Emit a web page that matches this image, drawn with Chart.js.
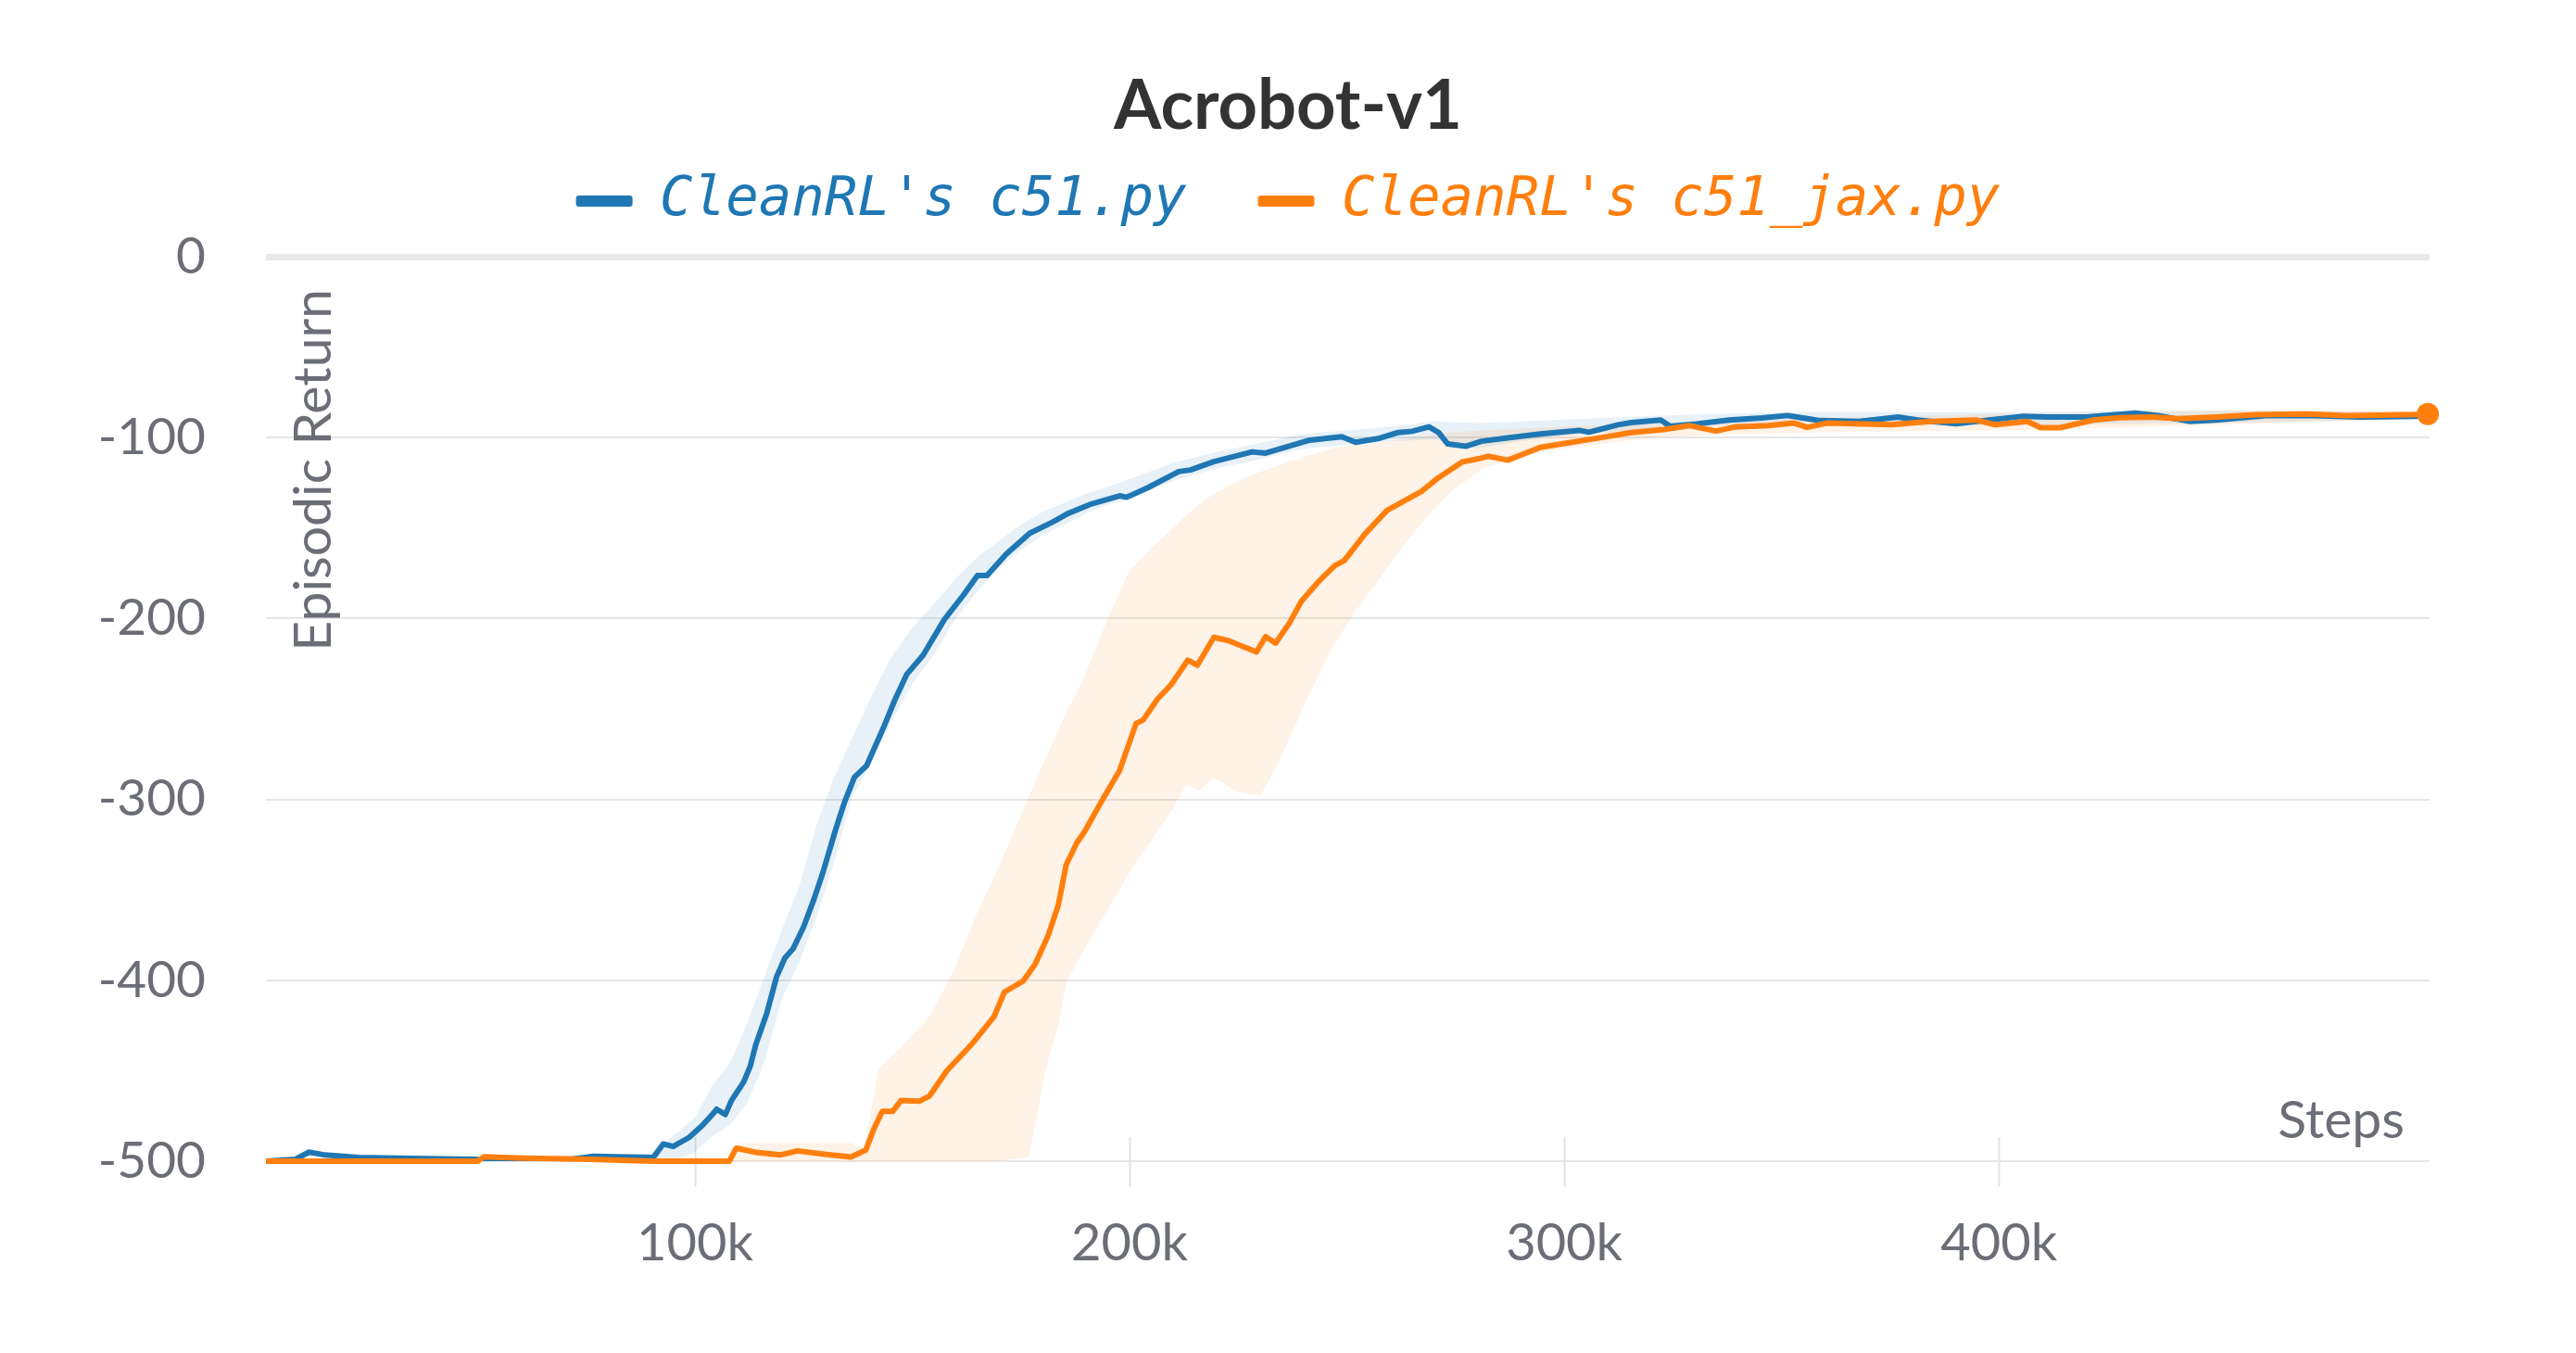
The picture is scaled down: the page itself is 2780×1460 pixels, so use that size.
<!DOCTYPE html>
<html>
<head>
<meta charset="utf-8">
<script src="https://cdn.jsdelivr.net/npm/chart.js@4.4.1/dist/chart.umd.min.js"></script>
<style>
  html, body { margin: 0; padding: 0; background: #ffffff; }
  #wrap { width: 2780px; height: 1460px; }
</style>
</head>
<body>
<div id="wrap"><canvas id="c" width="2780" height="1460"></canvas></div>
<script>
// ---------------- data (steps in thousands) ----------------
const chartTitle = 'Acrobot-v1';
const seriesNames = ["CleanRL's c51.py", "CleanRL's c51_jax.py"];
const xTickValues = [100000, 200000, 300000, 400000];
const yTickValues = [0, -100, -200, -300, -400, -500];
const xAxisLabel = 'Steps';
const yAxisLabel = 'Episodic Return';

const c51Steps = [1.3, 8, 11.2, 14.9, 22.6, 35, 49.3, 55, 70, 76.6, 90.4, 92.7, 95, 98.7, 101.8, 104, 105, 107, 108.4, 111.2, 112.7, 114, 116.5, 118.8, 120.7, 122.6, 125, 127.4, 129.5, 132.4, 134.5, 136.7, 139.5, 143.3, 146, 148.7, 152.5, 157.4, 161.8, 165, 167.2, 171.6, 177, 182.4, 185.7, 191.2, 197.7, 199.3, 204.2, 211.3, 214, 219.4, 228.2, 231.3, 241.1, 248.8, 252, 257.5, 261.8, 265, 268.9, 271.1, 273.2, 277.3, 281, 287, 294.5, 303.4, 305.7, 312.4, 315.4, 322.2, 324.4, 330.4, 337.9, 345.4, 351.4, 355.9, 358.9, 367.9, 376.8, 381.3, 390.2, 397.7, 405.2, 411.2, 420.2, 431.4, 436.6, 444, 450, 462, 472.6, 483, 494.9, 498.7];
const c51Return = [-500, -499, -495, -496.6, -498, -498.5, -499, -500, -499.5, -497.3, -498, -490.5, -491.9, -486.8, -480, -474.2, -471.3, -474.2, -466.5, -456.3, -447.7, -435.6, -418.5, -398, -387.7, -382.5, -370.5, -355.1, -340, -316.4, -301, -287.7, -281.4, -260.8, -245, -231, -220.3, -200.5, -187, -176.2, -176.2, -164.5, -152.9, -146.6, -142.1, -136.7, -132.2, -133, -127.7, -118.8, -117.9, -113.3, -107.9, -108.6, -101.6, -99.5, -102.6, -100.4, -97.2, -96.5, -94.1, -97.2, -103.5, -104.8, -102, -100.2, -98, -96, -97, -92.9, -91.7, -90.3, -93.7, -92.4, -90.3, -89.1, -87.8, -89.5, -90.6, -91.1, -88.6, -90.3, -92.4, -90.3, -88.3, -88.6, -88.6, -86.4, -87.8, -91.1, -90.3, -87.8, -87.8, -88.6, -88.3, -88];

const c51BandSteps = [1.3, 90, 95, 100, 104, 108, 112, 116, 120, 124, 128, 132, 136, 140, 145, 150, 155, 160, 165, 170, 175, 180, 185, 190, 195, 200, 210, 220, 230, 240, 250, 260, 270, 280, 290, 300, 320, 350, 400, 450, 498.7];
const c51BandLow  = [-500, -500, -500, -495, -486, -480, -468, -445, -410, -390, -365, -335, -300, -282, -258, -236, -220, -200, -185, -172, -162, -154, -148, -142, -137, -134, -124, -117, -112, -106, -104, -102, -101, -106, -102, -99, -95, -92, -93, -92, -90];
const c51BandHigh = [-500, -496, -486, -476, -458, -446, -424, -398, -372, -348, -314, -288, -267, -246, -222, -205, -192, -178, -166, -157, -148, -141, -136, -131, -127, -123, -114, -108, -103, -98, -96, -94, -91, -92, -91, -90, -88, -86, -86, -85, -86];

const jaxSteps = [1.3, 50, 51.5, 60.6, 75.9, 90, 107.9, 109.5, 114, 119.8, 123.6, 129.3, 135.9, 139.3, 141.2, 143.1, 145.5, 147.4, 151.7, 154, 157.9, 163.6, 168.8, 171.2, 175.5, 178.3, 181.2, 183.6, 185.4, 187.8, 189.6, 193.3, 197.7, 201.5, 203.1, 206.4, 209.6, 213.4, 215.6, 219.4, 222.7, 229.2, 231.3, 233.6, 236.8, 239.5, 243.4, 247.2, 249.4, 254.3, 259.2, 261.8, 267.3, 270.6, 276.6, 280.3, 282.5, 287, 294.5, 300.4, 307.9, 315.4, 322.9, 328.9, 334.9, 339.4, 346.9, 352.9, 355.9, 360.4, 375.3, 384.3, 394.7, 399.2, 406.6, 409.6, 414.1, 421.7, 427.7, 435.1, 441.2, 450, 459, 471, 480, 494.9, 498.7];
const jaxReturn = [-500, -500, -497.6, -498.3, -499, -500, -500, -492.8, -495.1, -496.5, -494.3, -496, -497.7, -493.9, -482, -472.5, -472.5, -466.5, -466.8, -463.9, -450.2, -435.6, -420.2, -406.5, -400.5, -391, -375.7, -358.5, -336.3, -324.3, -318, -302.1, -284.1, -258, -256.2, -244.6, -236.5, -223, -225.8, -210.4, -212.2, -218.5, -210, -213.6, -202.4, -190.6, -179.8, -170.8, -168, -152.9, -140.3, -136.9, -129.5, -123, -113.4, -111.7, -110.3, -112.5, -105.4, -103.1, -100.2, -97.2, -95.5, -93.4, -96.4, -94.1, -93.4, -92, -94.3, -92, -92.9, -91.1, -90.3, -92.9, -91.1, -94.5, -94.5, -90.3, -89, -88.6, -89.5, -88.6, -87.3, -86.9, -87.8, -87.3, -87];

const jaxBandSteps = [1.3, 107, 110, 136, 139, 142.2, 147.4, 154, 159.7, 164.5, 169.4, 176.9, 178.8, 180.7, 183.6, 185.4, 189.3, 194, 199.8, 205.5, 210, 213, 216, 219.4, 225, 230, 233.6, 237, 241.1, 246.6, 252, 257.5, 262.9, 268.4, 273.8, 281.3, 290, 300, 320, 340, 360, 400, 450, 498.7];
const jaxBandLow  = [-500, -500, -500, -500, -500, -500, -500, -500, -500, -500, -500, -498, -473, -449, -425, -401, -384, -365, -341, -321, -305, -292, -295, -288, -296, -298, -283, -265, -243, -216, -196, -178, -160, -144, -130, -117, -110, -106, -100, -98, -97, -96, -93, -89];
const jaxBandHigh = [-500, -500, -490, -490, -493, -449, -437, -420, -394, -365, -340, -298, -288, -277, -262, -252, -234, -206, -174, -160, -150, -143, -137, -131, -124, -119, -116, -113, -110, -106, -104, -103, -101, -99, -97, -96, -95, -94, -92, -90, -89, -87, -85, -85];

// ---------------- styles ----------------
const BLUE = '#1f77b4';
const ORANGE = '#ff7f0e';
const GREY_TEXT = '#6b6e76';
const SANS = 'Lato, "Open Sans", "Noto Sans", sans-serif';

const toPts = (xs, ys) => xs.map((x, i) => ({ x: x * 1000, y: ys[i] }));

const datasets = [
  { label: 'c51 band high', data: toPts(c51BandSteps, c51BandHigh), borderWidth: 0, pointRadius: 0,
    backgroundColor: 'rgba(31,119,180,0.10)', fill: 1, order: 3 },
  { label: 'c51 band low', data: toPts(c51BandSteps, c51BandLow), borderWidth: 0, pointRadius: 0,
    fill: false, order: 3 },
  { label: 'jax band high', data: toPts(jaxBandSteps, jaxBandHigh), borderWidth: 0, pointRadius: 0,
    backgroundColor: 'rgba(255,127,14,0.10)', fill: 3, order: 2 },
  { label: 'jax band low', data: toPts(jaxBandSteps, jaxBandLow), borderWidth: 0, pointRadius: 0,
    fill: false, order: 2 },
  { label: seriesNames[0], data: toPts(c51Steps, c51Return), borderColor: BLUE, backgroundColor: BLUE,
    borderWidth: 6, pointRadius: 0, fill: false, order: 1, borderJoinStyle: 'round' },
  { label: seriesNames[1], data: toPts(jaxSteps, jaxReturn), borderColor: ORANGE, backgroundColor: ORANGE,
    borderWidth: 6, fill: false, order: 0, borderJoinStyle: 'round', clip: false,
    pointRadius: (ctx) => ctx.dataIndex === jaxSteps.length - 1 ? 12 : 0,
    pointBorderWidth: 0, pointBackgroundColor: ORANGE }
];

const PLOT_LEFT = 287;
const RIGHT_GAP = 158;

const decorPlugin = {
  id: 'decor',
  beforeInit(chart) {
    const lg = chart.legend;
    if (lg) {
      const origFit = lg.fit.bind(lg);
      lg.fit = function () { origFit(); this.height += 20.6; };
    }
  },
  beforeDatasetsDraw(chart) {
    const { ctx, scales: { x, y } } = chart;
    const yb = y.getPixelForValue(-500);
    ctx.save();
    ctx.strokeStyle = '#e2e2e2';
    ctx.lineWidth = 2;
    xTickValues.forEach(v => {
      const px = Math.round(x.getPixelForValue(v)) + 0.5;
      ctx.beginPath();
      ctx.moveTo(px, yb - 26);
      ctx.lineTo(px, yb + 27);
      ctx.stroke();
    });
    ctx.fillStyle = GREY_TEXT;
    ctx.font = '57px ' + SANS;
    ctx.textAlign = 'right';
    ctx.textBaseline = 'alphabetic';
    ctx.fillText(xAxisLabel, chart.chartArea.right - 27, yb - 25);
    ctx.save();
    ctx.translate(chart.chartArea.left + 70, (y.getPixelForValue(-15) + y.getPixelForValue(-221)) / 2);
    ctx.rotate(-Math.PI / 2);
    ctx.textAlign = 'center';
    ctx.fillText(yAxisLabel, 0, 0);
    ctx.restore();
    ctx.restore();
  }
};

new Chart(document.getElementById('c'), {
  type: 'line',
  data: { datasets },
  options: {
    responsive: false,
    devicePixelRatio: 1,
    animation: false,
    layout: { padding: { left: 0, right: 0, top: 0, bottom: 87 } },
    plugins: {
      title: {
        display: true,
        text: chartTitle,
        color: '#333333',
        font: { family: SANS, weight: 'bold', size: 74, lineHeight: 1.2 },
        padding: { top: 70.6, bottom: -49 }
      },
      legend: {
        display: true,
        position: 'top',
        align: 'center',
        labels: {
          font: { family: '"DejaVu Sans Mono", "Liberation Mono", monospace', style: 'italic', size: 59 },
          boxWidth: 61,
          boxHeight: 12,
          padding: 77,
          generateLabels: () => [
            { text: seriesNames[0], fillStyle: BLUE, strokeStyle: BLUE, lineWidth: 0, fontColor: BLUE,
              borderRadius: 3, datasetIndex: 4, hidden: false },
            { text: seriesNames[1], fillStyle: ORANGE, strokeStyle: ORANGE, lineWidth: 0, fontColor: ORANGE,
              borderRadius: 3, datasetIndex: 5, hidden: false }
          ]
        }
      },
      tooltip: { enabled: false }
    },
    scales: {
      x: {
        type: 'linear',
        min: 1300,
        max: 499100,
        afterBuildTicks: (s) => { s.ticks = xTickValues.map(v => ({ value: v })); },
        afterFit: (s) => { s.height = 120; },
        grid: { display: false },
        border: { display: false },
        ticks: {
          padding: 47,
          color: GREY_TEXT,
          font: { family: SANS, size: 56 },
          maxRotation: 0,
          callback: (v) => (v / 1000) + 'k'
        }
      },
      y: {
        type: 'linear',
        position: 'left',
        min: -500,
        max: 0,
        afterBuildTicks: (s) => { s.ticks = yTickValues.map(v => ({ value: v })); },
        afterFit: (s) => { s.width = PLOT_LEFT; },
        border: { display: false },
        grid: {
          drawTicks: false,
          color: (c) => c.tick && c.tick.value === 0 ? '#e8e8e8' : '#e6e6e6',
          lineWidth: (c) => c.tick && c.tick.value === 0 ? 7 : 2
        },
        ticks: {
          padding: 65,
          color: GREY_TEXT,
          font: { family: SANS, size: 55 },
          callback: (v) => String(v)
        }
      },
      yRightGap: {
        type: 'linear',
        position: 'right',
        display: true,
        afterFit: (s) => { s.width = RIGHT_GAP; },
        grid: { display: false },
        border: { display: false },
        ticks: { display: false }
      }
    }
  },
  plugins: [decorPlugin]
});
</script>
</body>
</html>
